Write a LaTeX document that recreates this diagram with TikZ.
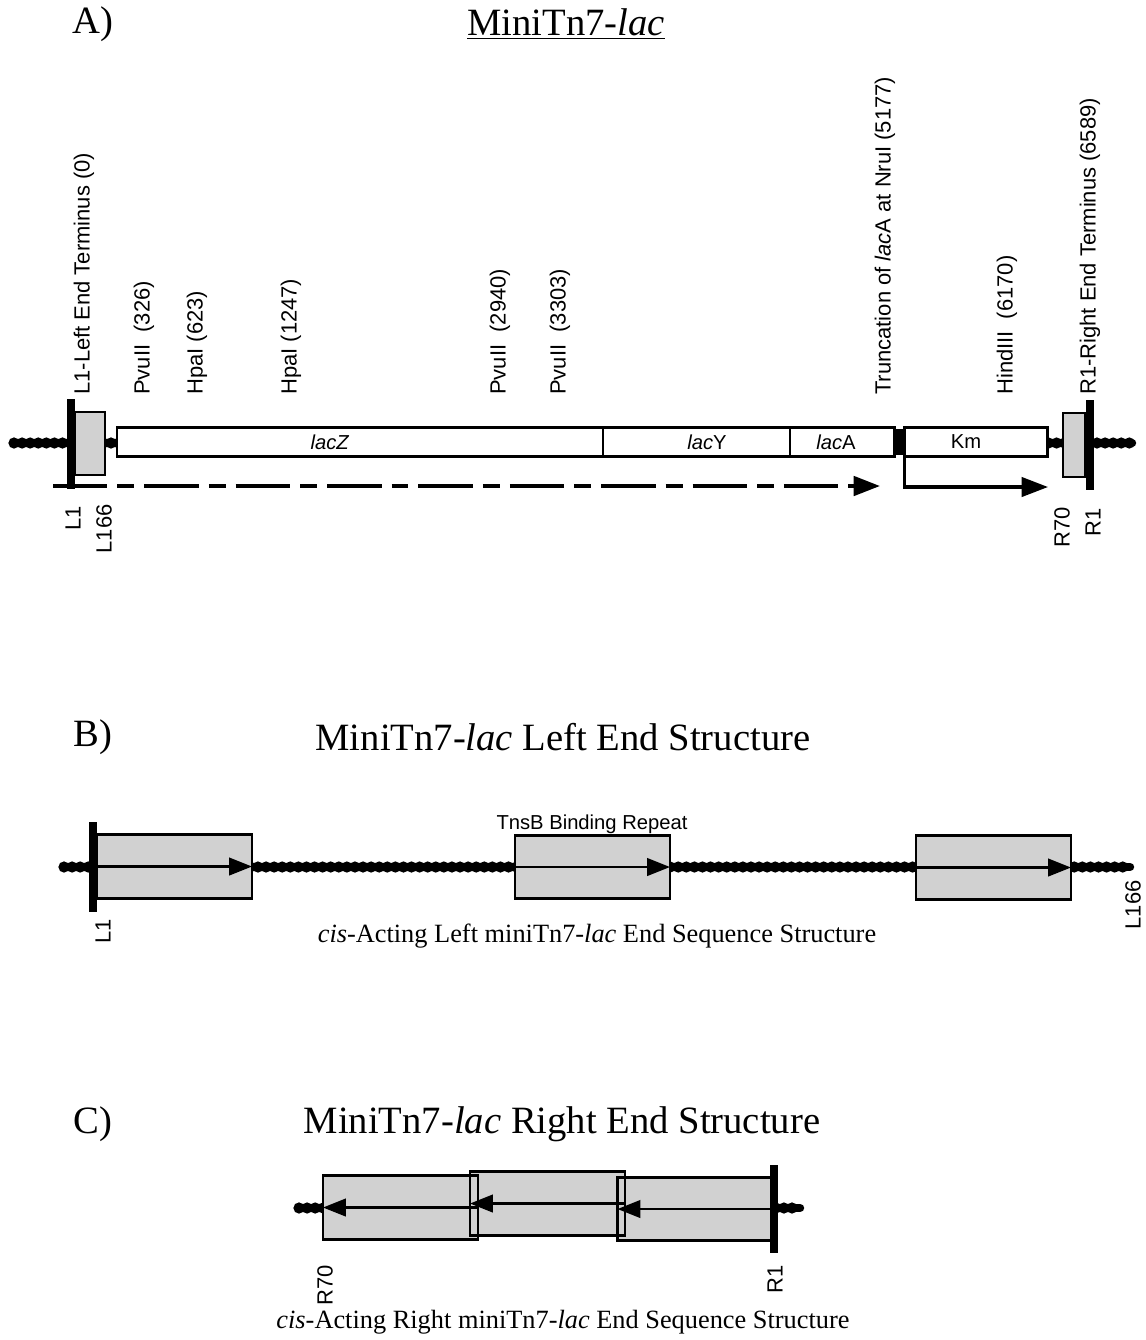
\documentclass[tikz,border=0pt]{standalone}
\usepackage{fontspec}
\setmainfont{Liberation Serif}
\setsansfont{Liberation Sans}
\usetikzlibrary{positioning,arrows.meta}

\begin{document}
\begin{tikzpicture}[
    x=0.02cm, y=-0.02cm,
    title/.style={font=\rmfamily\fontsize{22}{26}\selectfont},
    caption/.style={font=\rmfamily\fontsize{15}{18}\selectfont},
    site/.style={font=\sffamily\fontsize{12.5}{15}\selectfont, rotate=90, anchor=west, inner sep=0pt},
    endlabel/.style={font=\sffamily\fontsize{12.5}{15}\selectfont, rotate=90, anchor=east, inner sep=0pt},
    genebox/.style={draw, line width=1.6pt, fill=white, minimum height=0.58cm, inner sep=0pt, outer sep=0pt},
    genetext/.style={font=\sffamily\fontsize{11.5}{14}\selectfont, inner sep=0pt},
    endbox/.style={draw, line width=1.6pt, fill=black!18, inner sep=0pt, outer sep=0pt},
    repeatbox/.style={endbox, minimum width=3.1cm, minimum height=1.27cm},
    chain/.style={line width=6.4pt, line cap=round, dash pattern=on 0pt off 4.6pt,
        preaction={draw, solid, line width=4.8pt, line cap=round}},
    bar/.style={line width=4.5pt},
    arrow/.style={-{Triangle[length=15pt, width=11pt]}, line width=2.2pt},
    repeatarrow/.style={-{Triangle[length=13pt, width=10pt]}, line width=1.3pt},
    longdash/.style={dash pattern=on 31pt off 5.7pt on 9.6pt off 5.7pt}
]
\useasboundingbox (0,0) rectangle (1146,1340);

% A) whole element
\node[title] (labA) at (93,24) {A)};
\node[title] (titleA) at (566,24) {\underline{MiniTn7-\textit{lac}}};

\coordinate (Aleft) at (14,443);
\coordinate (Aright) at (1132,443);
\draw[chain] (Aleft) -- (Aright);

\node[endbox, minimum width=0.6cm, minimum height=1.26cm] (Lend) at (90,443.5) {};
\node[genebox, minimum width=9.72cm] (lacZ) at (360,442) {};
\node[genebox, minimum width=3.74cm, right=0pt of lacZ] (lacY) {};
\node[genebox, minimum width=2.1cm, right=0pt of lacY] (lacA) {};
\node[fill=black, minimum width=0.18cm, minimum height=0.52cm, inner sep=0pt, right=0pt of lacA] (nru) {};
\node[genebox, minimum width=2.86cm, right=0pt of nru] (Km) {};
\node[endbox, minimum width=0.44cm, minimum height=1.28cm] (Rend) at (1074,445) {};

\node[genetext] (tZ) at (330,442) {\textit{lacZ}};
\node[genetext] (tY) at (707,442) {\textit{lac}Y};
\node[genetext] (tA) at (836,442) {\textit{lac}A};
\node[genetext] (tKm) at (966,442) {Km};

\coordinate (LbarT) at (71,399);
\coordinate (LbarB) at (71,489);
\draw[bar] (LbarT) -- (LbarB);
\coordinate (RbarT) at (1090,400);
\coordinate (RbarB) at (1090,490);
\draw[bar] (RbarT) -- (RbarB);

\coordinate (dashS) at (53,486);
\coordinate (dashE) at (880,486);
\draw[arrow, longdash] (dashS) -- (dashE);
\coordinate (kmE) at (1048,487);
\draw[arrow, line width=1.8pt] (Km.south west) |- (kmE);

\node[site] (sL1) at (84,395) {L1-Left End Terminus (0)};
\node[site] (sPvu1) at (144,395) {PvuII\ \ (326)};
\node[site] (sHpa1) at (197,395) {HpaI (623)};
\node[site] (sHpa2) at (291,395) {HpaI (1247)};
\node[site] (sPvu2) at (500,395) {PvuII\ \ (2940)};
\node[site] (sPvu3) at (560,395) {PvuII\ \ (3303)};
\node[site] (sNru) at (885,395) {Truncation of \textit{lac}A at NruI (5177)};
\node[site] (sHind) at (1007,395) {HindIII\ \ (6170)};
\node[site] (sR1) at (1090,395) {R1-Right End Terminus (6589)};

\node[endlabel] (nL1) at (73,506) {L1};
\node[endlabel] (nL166) at (104,504) {L166};
\node[endlabel] (nR70) at (1062,507) {R70};
\node[endlabel] (nR1) at (1093,508) {R1};

% B) left end
\node[title] (labB) at (93,737) {B)};
\node[title] (titleB) at (563,737) {MiniTn7-\textit{lac} Left End Structure};

\coordinate (Bleft) at (64,867);
\coordinate (Bright) at (1130,867);
\draw[chain] (Bleft) -- (Bright);

\node[repeatbox] (rep1) at (174.5,866.5) {};
\node[repeatbox] (rep2) at (592.5,867) {};
\node[repeatbox] (rep3) at (993.5,867.5) {};
\foreach \r in {rep1,rep2,rep3}
  \draw[repeatarrow] (\r.west) -- (\r.east);

\coordinate (BbarT) at (93,822);
\coordinate (BbarB) at (93,912);
\draw[bar] (BbarT) -- (BbarB);

\node[genetext, anchor=base] (tTnsB) at (592,829) {TnsB Binding Repeat};
\node[endlabel] (bL1) at (103,919) {L1};
\node[endlabel] (bL166) at (1133,880) {L166};
\node[caption] (capB) at (597,936) {\textit{cis}-Acting Left miniTn7-\textit{lac} End Sequence Structure};

% C) right end
\node[title] (labC) at (93,1124) {C)};
\node[title] (titleC) at (562,1124) {MiniTn7-\textit{lac} Right End Structure};

\coordinate (Cleft) at (299,1208);
\coordinate (Cright) at (800,1208);
\draw[chain] (Cleft) -- (Cright);

\node[repeatbox] (crep1) at (400.5,1207.5) {};
\node[repeatbox] (crep2) at (547.5,1203.5) {};
\node[repeatbox] (crep3) at (695,1209) {};
\foreach \r in {crep1,crep2,crep3} {
  \draw[line width=1.6pt] (\r.south west) rectangle (\r.north east);
  \draw[repeatarrow] (\r.east) -- (\r.west);
}

\coordinate (CbarT) at (774,1165);
\coordinate (CbarB) at (774,1253);
\draw[bar] (CbarT) -- (CbarB);

\node[endlabel] (cR70) at (325,1265) {R70};
\node[endlabel] (cR1) at (775,1265) {R1};
\node[caption] (capC) at (563,1322) {\textit{cis}-Acting Right miniTn7-\textit{lac} End Sequence Structure};
\end{tikzpicture}
\end{document}
